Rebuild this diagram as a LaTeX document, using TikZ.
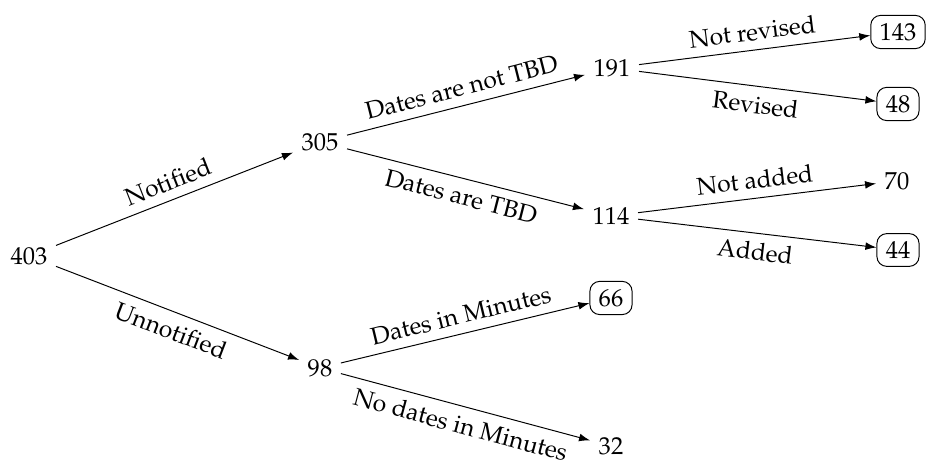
\documentclass[tikz,border=0pt]{standalone}
\usepackage[T1]{fontenc}
\usepackage{mathpazo}
\usetikzlibrary{arrows.meta}
\tikzset{
  num/.style={inner sep=3.33pt},
  boxnum/.style={draw, rounded corners=4pt, inner xsep=3.6pt, inner ysep=3.2pt},
  arr/.style={-{Latex[length=4.5pt,width=3.2pt]}, line width=0.4pt},
  lab/.style={sloped, midway, inner sep=3.6pt},
}
\begin{document}
\begin{tikzpicture}[x=0.408pt,y=-0.408pt]
\useasboundingbox (0,0) rectangle (927,462);
\node[num] (n403) at (29,256) {403};
\node[num] (n305) at (320,142) {305};
\node[num] (n98)  at (320,368) {98};
\node[num] (n191) at (612,68) {191};
\node[num] (n114) at (611,216) {114};
\node[boxnum] (n66) at (611,298) {66};
\node[num] (n32)  at (611,446) {32};
\node[boxnum] (n143) at (898,32) {143};
\node[boxnum] (n48)  at (898,104) {48};
\node[num] (n70)  at (897,181) {70};
\node[boxnum] (n44)  at (898,250) {44};

\draw[arr] (n403) -- node[lab, above] {Notified} (n305);
\draw[arr] (n403) -- node[lab, below] {Unnotified} (n98);
\draw[arr] (n305) -- node[lab, above] {Dates are not TBD} (n191);
\draw[arr] (n305) -- node[lab, below] {Dates are TBD} (n114);
\draw[arr] (n98) -- node[lab, above] {Dates in Minutes} (n66);
\draw[arr] (n98) -- node[lab, below] {No dates in Minutes} (n32);
\draw[arr] (n191) -- node[lab, above] {Not revised} (n143);
\draw[arr] (n191) -- node[lab, below] {Revised} (n48);
\draw[arr] (n114) -- node[lab, above] {Not added} (n70);
\draw[arr] (n114) -- node[lab, below] {Added} (n44);
\end{tikzpicture}
\end{document}
